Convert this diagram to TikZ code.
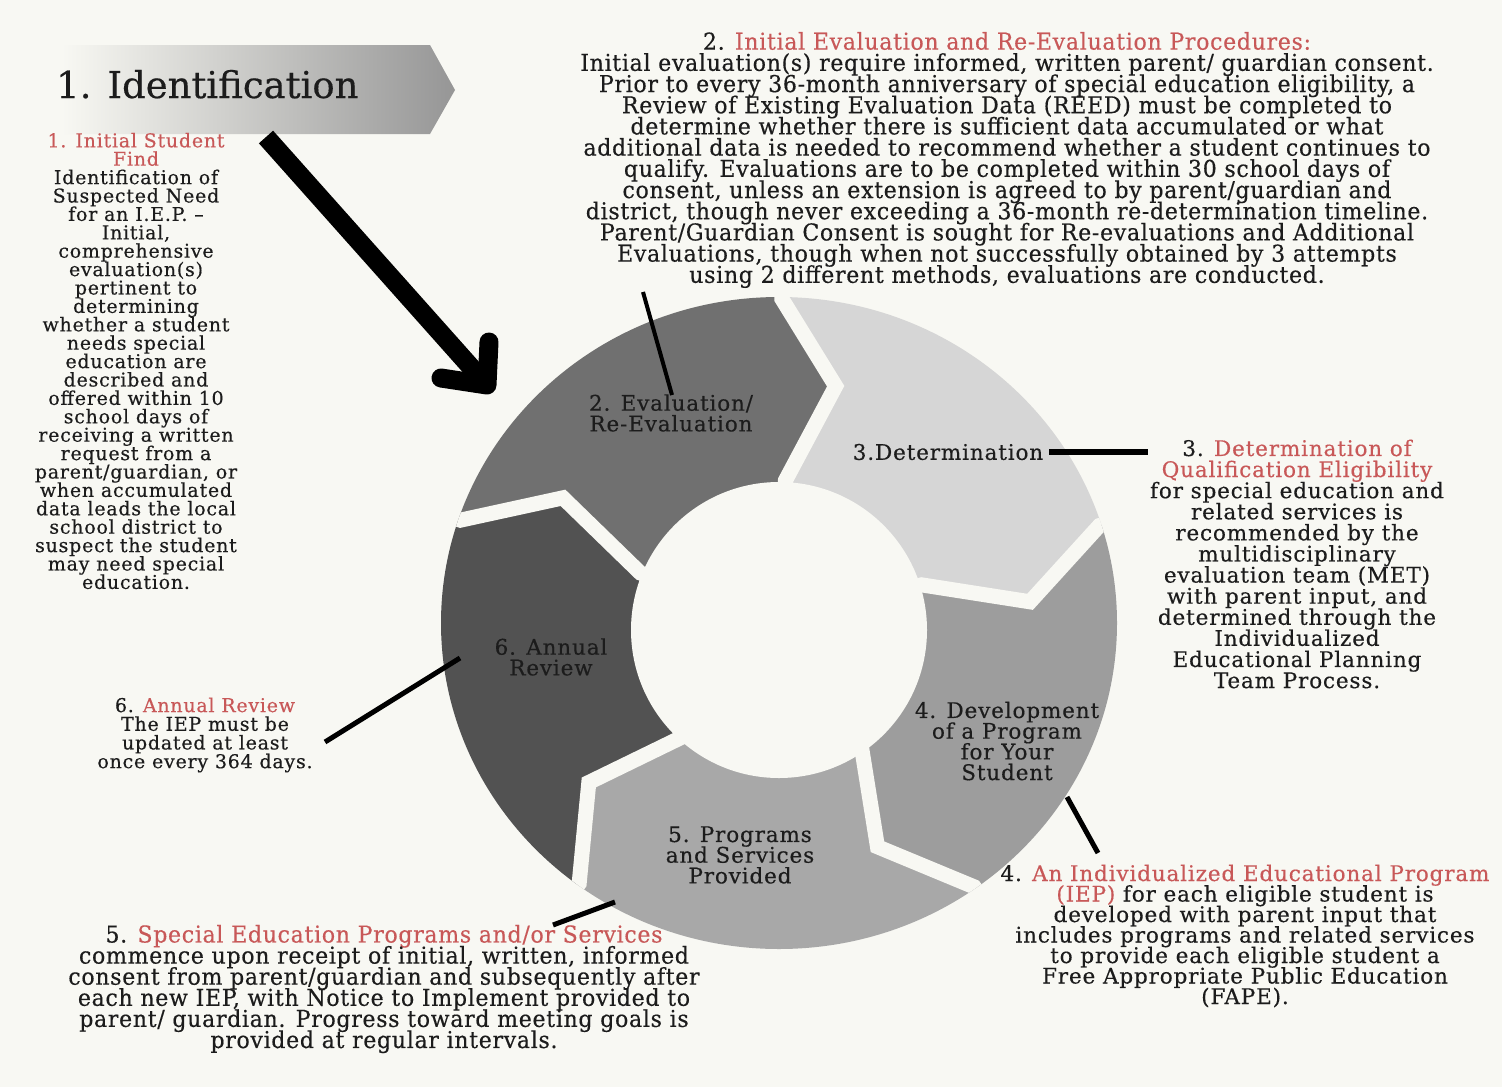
\documentclass[tikz,border=0pt]{standalone}
\usepackage{fontspec}
\setmainfont{DejaVu Serif}
\newfontfamily\lblfont[LetterSpace=4,FakeBold=0.4]{DejaVu Serif}
\newfontfamily\condfont[FakeStretch=0.95,LetterSpace=3,FakeBold=0.4]{DejaVu Serif}
\newfontfamily\titlefont[FakeBold=0.4]{DejaVu Serif}
\newcommand\tightlines{\lineskiplimit=-100pt\relax\lineskip=0pt\relax}
\usetikzlibrary{calc}
\definecolor{bg}{RGB}{248,248,243}
\definecolor{ink}{RGB}{28,28,28}
\definecolor{rd}{RGB}{200,88,88}
\definecolor{segA}{RGB}{112,112,112}
\definecolor{segB}{RGB}{214,214,214}
\definecolor{segC}{RGB}{157,157,157}
\definecolor{segD}{RGB}{168,168,168}
\definecolor{segE}{RGB}{82,82,82}
\definecolor{bannerR}{RGB}{150,150,150}
\tikzset{
  seglabel/.style={align=center, text=ink, inner sep=0pt, font=\lblfont\fontsize{21.5}{20.7}\selectfont\tightlines},
  sidesmall/.style={align=center, text=ink, inner sep=0pt, font=\lblfont\fontsize{19}{18.4}\selectfont\tightlines},
  sidemid/.style={align=center, text=ink, inner sep=0pt, font=\lblfont\fontsize{21.5}{21.1}\selectfont\tightlines},
  condtext/.style={align=center, text=ink, inner sep=0pt, font=\condfont\fontsize{23.2}{21.2}\selectfont\tightlines},
  conn/.style={line width=5pt, black},
  gapline/.style={line width=15pt, bg, line join=miter},
}
\begin{document}
\tightlines
\begin{tikzpicture}[x=1pt, y=-1pt]
\useasboundingbox (0,0) rectangle (1502,1087);
\fill[bg] (0,0) rectangle (1502,1087);

% banner
\shade[left color=bg, right color=bannerR] (62,45) -- (430,45) -- (455,90) -- (430,134) -- (62,134) -- cycle;
\node[anchor=base west, text=ink, inner sep=0pt, font=\titlefont\fontsize{37}{40}\selectfont] (title) at (56,98) {1.\hspace{16pt}Identification};

% ring
\begin{scope}[shift={(779,623)}, yscale=0.9645]
  \clip (0,0) circle[radius=338pt];
  \foreach \A/\col in {161.5/segA, 89.5/segB, 17.5/segC, -54.5/segD, -126.5/segE}{
    \fill[\col] (0,0) -- (\A-2:148pt) -- (\A-12.5:252pt) -- (\A:336pt) -- (\A:370pt)
      arc[start angle=\A, end angle=\A-72, radius=370pt]
      -- (\A-72:336pt) -- (\A-84.5:252pt) -- (\A-74:148pt) -- cycle;
  }
  \foreach \A in {161.5, 89.5, 17.5, -54.5, -126.5}{
    \draw[gapline] (\A:380pt) -- (\A:336pt) -- (\A-12.5:252pt) -- (\A-2:148pt) -- (\A-2:90pt);
  }
\end{scope}
\fill[bg] (779,630) circle[radius=148pt];

% big arrow
\draw[line width=19pt, black] (266,137) -- (486,384);
\draw[line width=19pt, black, line cap=round, line join=round] (489,342) -- (487,385) -- (441,378);

% segment labels
\node[seglabel] (eval) at (671,413) {2. Evaluation/\\Re-Evaluation};
\node[seglabel] (det) at (948,452) {3.Determination};
\node[seglabel] (annual) at (551,657) {6. Annual\\Review};
\node[seglabel] (dev) at (1007,741) {4. Development\\of a Program\\for Your\\Student};
\node[seglabel] (prog) at (740,855) {5. Programs\\and Services\\Provided};

% text blocks
\node[condtext] (t2) at (1007,160) {2. \textcolor{rd}{Initial Evaluation and Re-Evaluation Procedures:}\\
Initial evaluation(s) require informed, written parent/ guardian consent.\\
Prior to every 36-month anniversary of special education eligibility, a\\
Review of Existing Evaluation Data (REED) must be completed to\\
determine whether there is sufficient data accumulated or what\\
additional data is needed to recommend whether a student continues to\\
qualify. Evaluations are to be completed within 30 school days of\\
consent, unless an extension is agreed to by parent/guardian and\\
district, though never exceeding a 36-month re-determination timeline.\\
Parent/Guardian Consent is sought for Re-evaluations and Additional\\
Evaluations, though when not successfully obtained by 3 attempts\\
using 2 different methods, evaluations are conducted.};

\node[sidesmall] (t1) at (136,361) {\textcolor{rd}{1. Initial Student}\\
\textcolor{rd}{Find}\\
Identification of\\
Suspected Need\\
for an I.E.P. –\\
Initial,\\
comprehensive\\
evaluation(s)\\
pertinent to\\
determining\\
whether a student\\
needs special\\
education are\\
described and\\
offered within 10\\
school days of\\
receiving a written\\
request from a\\
parent/guardian, or\\
when accumulated\\
data leads the local\\
school district to\\
suspect the student\\
may need special\\
education.};

\node[sidemid] (t3) at (1297,564) {3. \textcolor{rd}{Determination of}\\
\textcolor{rd}{Qualification Eligibility}\\
for special education and\\
related services is\\
recommended by the\\
multidisciplinary\\
evaluation team (MET)\\
with parent input, and\\
determined through the\\
Individualized\\
Educational Planning\\
Team Process.};

\node[sidemid, font=\lblfont\fontsize{21.5}{20.5}\selectfont\tightlines] (t4) at (1245,936) {4. \textcolor{rd}{An Individualized Educational Program}\\
\textcolor{rd}{(IEP)} for each eligible student is\\
developed with parent input that\\
includes programs and related services\\
to provide each eligible student a\\
Free Appropriate Public Education\\
(FAPE).};

\node[condtext, font=\condfont\fontsize{23.2}{21.1}\selectfont\tightlines] (t5) at (384,989) {5. \textcolor{rd}{Special Education Programs and/or Services}\\
commence upon receipt of initial, written, informed\\
consent from parent/guardian and subsequently after\\
each new IEP, with Notice to Implement provided to\\
parent/ guardian. Progress toward meeting goals is\\
provided at regular intervals.};

\node[sidesmall, font=\lblfont\fontsize{19}{18.7}\selectfont\tightlines] (t6) at (205,735) {6. \textcolor{rd}{Annual Review}\\
The IEP must be\\
updated at least\\
once every 364 days.};

% connectors
\coordinate (c2a) at (643,292);
\coordinate (c2b) at (672,395);
\draw[conn, line width=4pt] (c2a) -- (c2b);
\coordinate (c3b) at (1148,452);
\draw[conn, line width=6pt] ([xshift=6pt]det.east) -- (c3b);
\coordinate (c4a) at (1067,797);
\coordinate (c4b) at (1098,853);
\draw[conn] (c4a) -- (c4b);
\coordinate (c5a) at (553,925);
\coordinate (c5b) at (615,902);
\draw[conn] (c5a) -- (c5b);
\coordinate (c6a) at (325,742);
\coordinate (c6b) at (460,658);
\draw[conn] (c6a) -- (c6b);
\end{tikzpicture}
\end{document}
